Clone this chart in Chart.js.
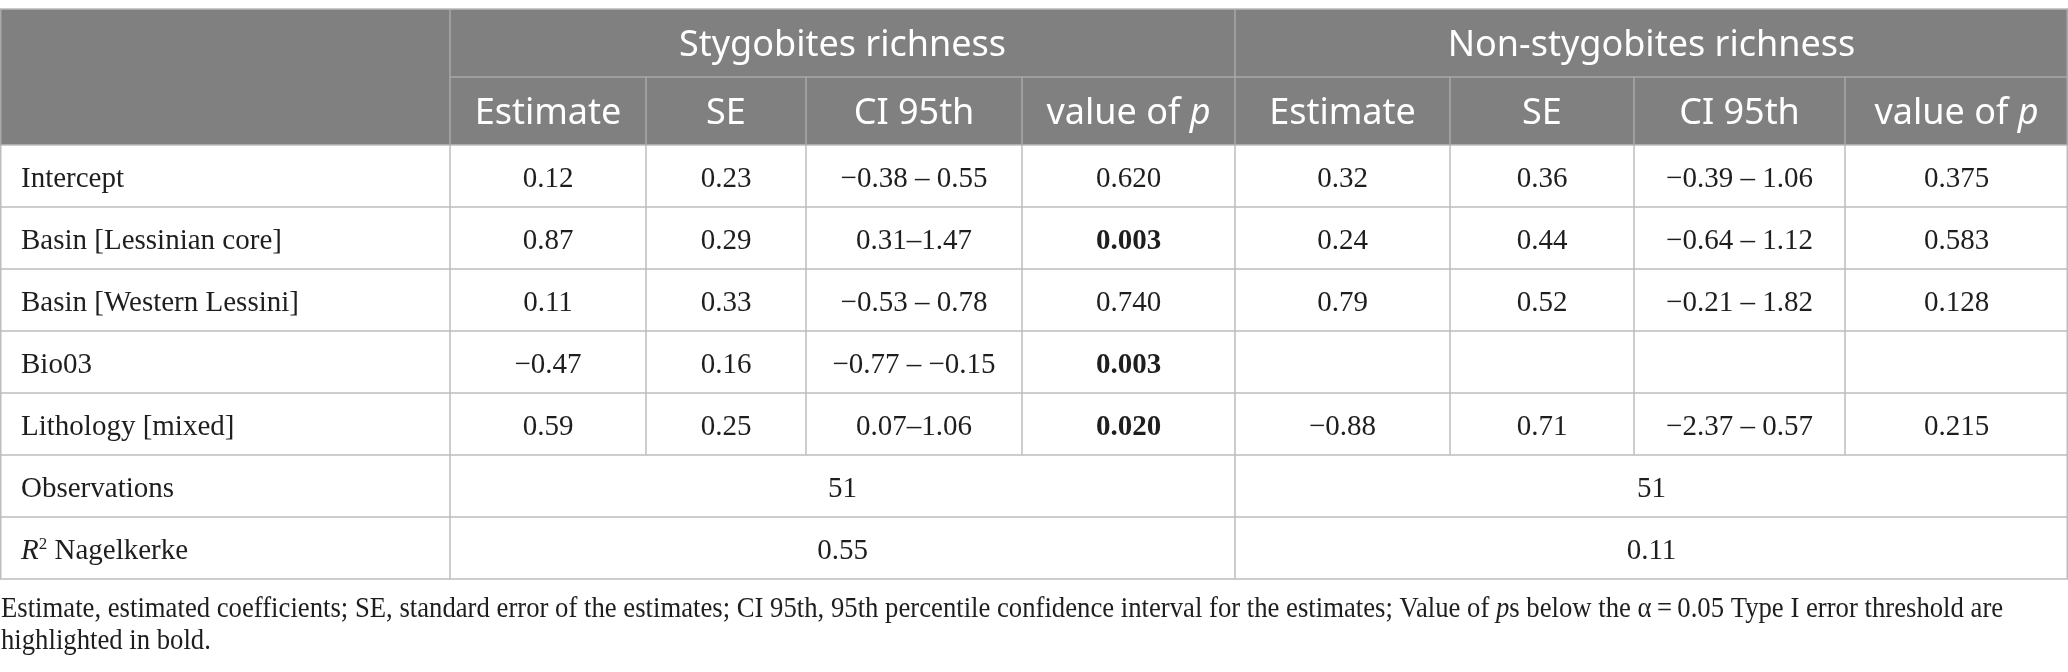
<!DOCTYPE html>
<html><head><meta charset="utf-8">
<script src="https://cdn.jsdelivr.net/npm/chart.js@4.4.1/dist/chart.umd.min.js"></script>
<style>html,body{margin:0;padding:0;background:#fff;overflow:hidden}canvas{display:block}</style>
</head><body>
<canvas id="c" width="2068" height="672"></canvas>
<script>
// ---- table content ----
const groupHeaders = ['Stygobites richness', 'Non-stygobites richness'];
const subHeaders = ['Estimate', 'SE', 'CI 95th', 'value of p'];
const rowLabels = ['Intercept', 'Basin [Lessinian core]', 'Basin [Western Lessini]', 'Bio03', 'Lithology [mixed]'];
const stygEstimate = ['0.12', '0.87', '0.11', '\u22120.47', '0.59'];
const stygSE = ['0.23', '0.29', '0.33', '0.16', '0.25'];
const stygCI = ['\u22120.38 \u2013 0.55', '0.31\u20131.47', '\u22120.53 \u2013 0.78', '\u22120.77 \u2013 \u22120.15', '0.07\u20131.06'];
const stygP = ['0.620', '0.003', '0.740', '0.003', '0.020'];
const stygPBold = [false, true, false, true, true];
const nonEstimate = ['0.32', '0.24', '0.79', '', '\u22120.88'];
const nonSE = ['0.36', '0.44', '0.52', '', '0.71'];
const nonCI = ['\u22120.39 \u2013 1.06', '\u22120.64 \u2013 1.12', '\u22120.21 \u2013 1.82', '', '\u22122.37 \u2013 0.57'];
const nonP = ['0.375', '0.583', '0.128', '', '0.215'];
const summaryLabels = ['Observations', 'R2 Nagelkerke'];
const observations = ['51', '51'];
const r2Nagelkerke = ['0.55', '0.11'];
const captionLine1 = ['Estimate, estimated coefficients; SE, standard error of the estimates; CI 95th, 95th percentile confidence interval for the estimates; Value of ', 'p', 's below the \u03b1\u2009=\u20090.05 Type I error threshold are'];
const captionLine2 = 'highlighted in bold.';

// ---- layout (styles) ----
const W = 2068, H = 672;
const colWidths = [450, 196, 160, 216, 213, 215, 184, 211, 223];
const tableTop = 9, headH = 68, rowH = 62, nBody = 7;
const colEdges = [0];
colWidths.forEach(w => colEdges.push(colEdges[colEdges.length - 1] + w));
const rowEdges = [tableTop, tableTop + headH, tableTop + 2 * headH];
for (let i = 0; i < nBody; i++) rowEdges.push(rowEdges[rowEdges.length - 1] + rowH);
const HEAD_FONT = '"Noto Sans", "Open Sans", sans-serif';
const BODY_FONT = '"Liberation Serif", "DejaVu Serif", serif';
const BODY_SIZE = 29, HEAD_SIZE = 36, CAP_SIZE = 30, CAP_SCALEX = 0.89;
const HEAD_BASE = 47, BODY_BASE = 42;   // baseline offset from row top
const colC = c => (colEdges[c] + colEdges[c + 1]) / 2;
const rowB = (r, off) => rowEdges[r] + off;

// one scatter dataset per column of values; points sit at cell baselines
const valueColumns = [stygEstimate, stygSE, stygCI, stygP, nonEstimate, nonSE, nonCI, nonP];
const datasets = valueColumns.map((col, ci) => ({
  label: 'col' + ci,
  data: col.map((t, ri) => ({ x: colC(ci + 1), y: rowB(ri + 2, BODY_BASE), t: t, b: ci === 3 ? stygPBold[ri] : false, align: 'center' })),
  pointRadius: 0, pointHoverRadius: 0
}));
datasets.push({
  label: 'labels',
  data: rowLabels.map((t, ri) => ({ x: colEdges[0] + 21, y: rowB(ri + 2, BODY_BASE), t: t, align: 'left' })),
  pointRadius: 0, pointHoverRadius: 0
});
datasets.push({
  label: 'summary',
  data: [
    { x: (colEdges[1] + colEdges[5]) / 2, y: rowB(7, BODY_BASE), t: observations[0], align: 'center' },
    { x: (colEdges[5] + colEdges[9]) / 2, y: rowB(7, BODY_BASE), t: observations[1], align: 'center' },
    { x: (colEdges[1] + colEdges[5]) / 2, y: rowB(8, BODY_BASE), t: r2Nagelkerke[0], align: 'center' },
    { x: (colEdges[5] + colEdges[9]) / 2, y: rowB(8, BODY_BASE), t: r2Nagelkerke[1], align: 'center' },
    { x: colEdges[0] + 21, y: rowB(7, BODY_BASE), t: summaryLabels[0], align: 'left' },
    { x: colEdges[0] + 21, y: rowB(8, BODY_BASE), t: summaryLabels[1], align: 'left', r2: true }
  ],
  pointRadius: 0, pointHoverRadius: 0
});

function drawRuns(ctx, runs, x, y, align, sx) {
  sx = sx || 1;
  let total = 0;
  runs.forEach(r => { ctx.font = r.font; r.w = ctx.measureText(r.text).width; total += r.w; });
  ctx.save();
  ctx.translate(align === 'center' ? x - total * sx / 2 : x, y);
  ctx.scale(sx, 1);
  let cx = 0;
  runs.forEach(r => {
    ctx.font = r.font;
    ctx.textAlign = 'left';
    ctx.fillText(r.text, cx, r.dy || 0);
    cx += r.w;
  });
  ctx.restore();
}

const tablePlugin = {
  id: 'tablePlugin',
  beforeDatasetsDraw(chart) {
    const ctx = chart.ctx, xs = chart.scales.x, ys = chart.scales.y;
    const X = v => xs.getPixelForValue(v), Y = v => ys.getPixelForValue(v);
    ctx.save();
    ctx.fillStyle = '#808080';
    ctx.fillRect(X(0), Y(rowEdges[0]), X(W) - X(0), Y(rowEdges[2]) - Y(rowEdges[0]));
    const line = (x1, y1, x2, y2, col) => {
      ctx.strokeStyle = col; ctx.lineWidth = 1.5;
      ctx.beginPath(); ctx.moveTo(X(x1), Y(y1)); ctx.lineTo(X(x2), Y(y2)); ctx.stroke();
    };
    const headLine = '#a9a9a9', bodyLine = '#bdbdbd';
    line(0, rowEdges[0], W, rowEdges[0], '#b8b8b8');
    line(colEdges[1], rowEdges[1], W, rowEdges[1], headLine);
    for (let r = 2; r < rowEdges.length; r++) line(0, rowEdges[r], W, rowEdges[r], bodyLine);
    [0, 1, 5].forEach(c => {
      const xx = colEdges[c] + (c === 0 ? 0.75 : 0);
      line(xx, rowEdges[0], xx, rowEdges[2], headLine);
      line(xx, rowEdges[2], xx, rowEdges[9], bodyLine);
    });
    line(W - 0.75, rowEdges[0], W - 0.75, rowEdges[2], headLine);
    line(W - 0.75, rowEdges[2], W - 0.75, rowEdges[9], bodyLine);
    [2, 3, 4, 6, 7, 8].forEach(c => {
      line(colEdges[c], rowEdges[1], colEdges[c], rowEdges[2], headLine);
      line(colEdges[c], rowEdges[2], colEdges[c], rowEdges[7], bodyLine);
    });
    // header text
    ctx.fillStyle = '#ffffff';
    ctx.textBaseline = 'alphabetic';
    ctx.textAlign = 'center';
    ctx.font = HEAD_SIZE + 'px ' + HEAD_FONT;
    ctx.fillText(groupHeaders[0], X((colEdges[1] + colEdges[5]) / 2), Y(rowB(0, HEAD_BASE)));
    ctx.fillText(groupHeaders[1], X((colEdges[5] + colEdges[9]) / 2), Y(rowB(0, HEAD_BASE)));
    for (let g = 0; g < 2; g++) {
      subHeaders.forEach((h, i) => {
        const c = 1 + g * 4 + i;
        if (h === 'value of p') {
          drawRuns(ctx, [
            { text: 'value of ', font: HEAD_SIZE + 'px ' + HEAD_FONT },
            { text: 'p', font: 'italic ' + HEAD_SIZE + 'px ' + HEAD_FONT }
          ], X(colC(c)), Y(rowB(1, HEAD_BASE)), 'center');
        } else {
          ctx.textAlign = 'center';
          ctx.font = HEAD_SIZE + 'px ' + HEAD_FONT;
          ctx.fillText(h, X(colC(c)), Y(rowB(1, HEAD_BASE)));
        }
      });
    }
    ctx.restore();
  },
  afterDatasetsDraw(chart) {
    const ctx = chart.ctx;
    ctx.save();
    ctx.fillStyle = '#1e1e1e';
    ctx.textBaseline = 'alphabetic';
    chart.data.datasets.forEach((ds, di) => {
      const meta = chart.getDatasetMeta(di);
      ds.data.forEach((d, i) => {
        const el = meta.data[i];
        if (!d.t) return;
        if (d.r2) {
          drawRuns(ctx, [
            { text: 'R', font: 'italic ' + BODY_SIZE + 'px ' + BODY_FONT },
            { text: '2', font: Math.round(BODY_SIZE * 0.6) + 'px ' + BODY_FONT, dy: -10 },
            { text: ' Nagelkerke', font: BODY_SIZE + 'px ' + BODY_FONT }
          ], el.x, el.y, 'left');
          return;
        }
        ctx.font = (d.b ? 'bold ' : '') + BODY_SIZE + 'px ' + BODY_FONT;
        ctx.textAlign = d.align;
        ctx.fillText(d.t, el.x, el.y);
      });
    });
    // caption
    const xs = chart.scales.x, ys = chart.scales.y;
    drawRuns(ctx, [
      { text: captionLine1[0], font: CAP_SIZE + 'px ' + BODY_FONT },
      { text: captionLine1[1], font: 'italic ' + CAP_SIZE + 'px ' + BODY_FONT },
      { text: captionLine1[2], font: CAP_SIZE + 'px ' + BODY_FONT }
    ], xs.getPixelForValue(1), ys.getPixelForValue(617), 'left', CAP_SCALEX);
    drawRuns(ctx, [{ text: captionLine2, font: CAP_SIZE + 'px ' + BODY_FONT }],
      xs.getPixelForValue(1), ys.getPixelForValue(649), 'left', CAP_SCALEX);
    ctx.restore();
  }
};

new Chart(document.getElementById('c'), {
  type: 'scatter',
  data: { datasets },
  options: {
    responsive: false, animation: false, devicePixelRatio: 1,
    layout: { padding: 0 },
    plugins: { legend: { display: false }, tooltip: { enabled: false } },
    events: [],
    scales: {
      x: { type: 'linear', min: 0, max: W, display: false },
      y: { type: 'linear', min: 0, max: H, reverse: true, display: false }
    }
  },
  plugins: [tablePlugin]
});
</script>
</body></html>
